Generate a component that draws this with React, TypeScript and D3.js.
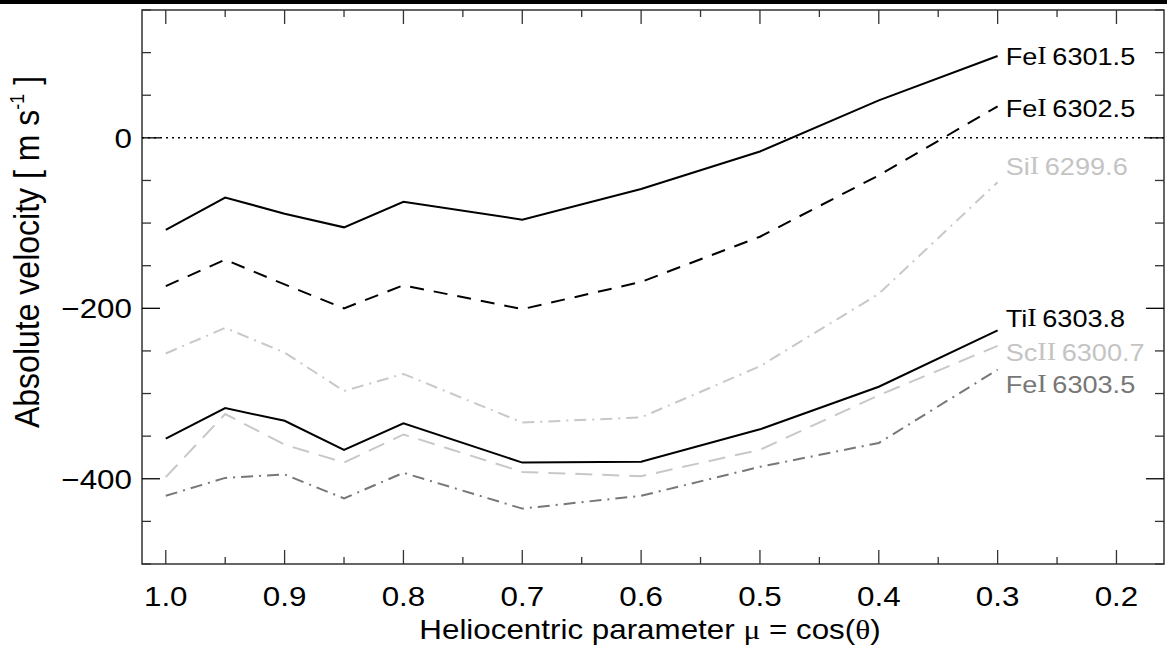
import React from "react";
import * as d3 from "d3";

// Heliocentric positions (mu = cos theta)
const mu = [1.0, 0.95, 0.9, 0.85, 0.8, 0.7, 0.6, 0.5, 0.4, 0.3];

// Absolute line-core velocities [m/s]
const fe6301 = [-108, -70, -89, -105, -75, -96, -60, -16, 44, 96];
const fe6302 = [-174, -143, -172, -200, -173, -201, -169, -116, -44, 37];
const si6299 = [-253, -223, -252, -297, -277, -334, -328, -268, -183, -52];
const ti6303 = [-353, -317, -332, -366, -335, -381, -380, -342, -292, -226];
const sc6300 = [-398, -324, -360, -381, -348, -392, -397, -366, -302, -244];
const fe6303 = [-420, -399, -395, -423, -393, -435, -420, -386, -358, -272];

// Where each series label sits on the velocity axis
const labelAt = [93, 32, -36, -214, -254, -292];

const xTicksMajor = [1.0, 0.9, 0.8, 0.7, 0.6, 0.5, 0.4, 0.3, 0.2];
const xTicksMinor = [0.95, 0.85, 0.75, 0.65, 0.55, 0.45, 0.35, 0.25, 0.15];
const yTicksMajor = [0, -200, -400];
const yTicksMinor = [150, 100, 50, -50, -100, -150, -250, -300, -350, -450, -500];

type Series = {
  el: string;
  ion: string;
  wl: string;
  values: number[];
  color: string;
  labelColor: string;
  dash: string | null;
};

const series: Series[] = [
  { el: "Fe", ion: "I", wl: "6301.5", values: fe6301, color: "#000", labelColor: "#000", dash: null },
  { el: "Fe", ion: "I", wl: "6302.5", values: fe6302, color: "#000", labelColor: "#000", dash: "14 10" },
  { el: "Si", ion: "I", wl: "6299.6", values: si6299, color: "#c8c8c8", labelColor: "#c4c4c4", dash: "12 6 2 6" },
  { el: "Ti", ion: "I", wl: "6303.8", values: ti6303, color: "#000", labelColor: "#000", dash: null },
  { el: "Sc", ion: "II", wl: "6300.7", values: sc6300, color: "#c8c8c8", labelColor: "#c4c4c4", dash: "17 10" },
  { el: "Fe", ion: "I", wl: "6303.5", values: fe6303, color: "#777", labelColor: "#777", dash: "12 6 2 6" },
];

const W = 1167;
const H = 647;
const left = 142;
const right = 1164;
const top = 10;
const bottom = 564;

const sans = "'Liberation Sans', Arial, Helvetica, sans-serif";
const serif = "'Liberation Serif', 'Times New Roman', serif";

// Text drawn with a slight horizontal (screen-x) stretch, wide Helvetica look
function Wide({
  x,
  y,
  sx = 1.12,
  rotate = 0,
  children,
  ...rest
}: {
  x: number;
  y: number;
  sx?: number;
  rotate?: number;
  children: React.ReactNode;
  [k: string]: any;
}) {
  return (
    <g transform={`translate(${x},${y}) scale(${sx},1) rotate(${rotate})`}>
      <text x={0} y={0} {...rest}>
        {children}
      </text>
    </g>
  );
}

export default function App() {
  const x = d3.scaleLinear().domain([1.02, 0.16]).range([left, right]);
  const y = d3.scaleLinear().domain([-500, 150]).range([bottom, top]);

  const line = d3
    .line<number>()
    .x((_, i) => x(mu[i]))
    .y((v) => y(v));

  const axisColor = "#333";
  const majX = 14;
  const minX = 7;
  const majY = 18;
  const minY = 9;

  return (
    <svg
      width={W}
      height={H}
      style={{ position: "absolute", left: 0, top: 0, background: "#fff" }}
      fontFamily={sans}
    >
      <rect x={0} y={0} width={W} height={4} fill="#000" />

      {/* zero-velocity reference */}
      <line
        x1={left}
        x2={right}
        y1={y(0)}
        y2={y(0)}
        stroke="#000"
        strokeWidth={1.5}
        strokeDasharray="2 4"
      />

      {series.map((s, k) => (
        <path
          key={k}
          d={line(s.values) || ""}
          fill="none"
          stroke={s.color}
          strokeWidth={2}
          strokeDasharray={s.dash || undefined}
          strokeLinejoin="miter"
        />
      ))}

      {series.map((s, k) => (
        <Wide
          key={"l" + k}
          x={x(mu[mu.length - 1]) + 8}
          y={y(labelAt[k])}
          sx={1.13}
          dominantBaseline="middle"
          fontSize={24}
          fill={s.labelColor}
        >
          {s.el}
          <tspan fontFamily={serif} fontSize={25}>
            {s.ion}
          </tspan>
          <tspan dx={5}>{s.wl}</tspan>
        </Wide>
      ))}

      {/* frame */}
      <rect
        x={left}
        y={top}
        width={right - left}
        height={bottom - top}
        fill="none"
        stroke={axisColor}
        strokeWidth={1.5}
      />

      {/* x ticks, bottom and top */}
      {xTicksMajor.map((t) => (
        <g key={"xm" + t}>
          <line x1={x(t)} x2={x(t)} y1={bottom} y2={bottom - majX} stroke={axisColor} strokeWidth={1.3} />
          <line x1={x(t)} x2={x(t)} y1={top} y2={top + majX} stroke={axisColor} strokeWidth={1.3} />
          <Wide x={x(t)} y={606} textAnchor="middle" fontSize={28} fill="#000">
            {d3.format(".1f")(t)}
          </Wide>
        </g>
      ))}
      {xTicksMinor.map((t) => (
        <g key={"xn" + t}>
          <line x1={x(t)} x2={x(t)} y1={bottom} y2={bottom - minX} stroke={axisColor} strokeWidth={1.3} />
          <line x1={x(t)} x2={x(t)} y1={top} y2={top + minX} stroke={axisColor} strokeWidth={1.3} />
        </g>
      ))}

      {/* y ticks, left and right */}
      {yTicksMajor.map((t) => (
        <g key={"ym" + t}>
          <line x1={left} x2={left + majY} y1={y(t)} y2={y(t)} stroke="#000" strokeWidth={1.3} />
          <line x1={right} x2={right - majY} y1={y(t)} y2={y(t)} stroke="#000" strokeWidth={1.3} />
          <Wide x={132} y={y(t)} dy="0.36em" textAnchor="end" fontSize={28} fill="#000">
            {t < 0 ? "\u2212" + Math.abs(t) : String(t)}
          </Wide>
        </g>
      ))}
      {yTicksMinor.map((t) => (
        <g key={"yn" + t}>
          <line x1={left} x2={left + minY} y1={y(t)} y2={y(t)} stroke={axisColor} strokeWidth={1.3} />
          <line x1={right} x2={right - minY} y1={y(t)} y2={y(t)} stroke={axisColor} strokeWidth={1.3} />
        </g>
      ))}

      {/* axis titles */}
      <Wide x={650} y={639} textAnchor="middle" fontSize={28} fill="#000">
        Heliocentric parameter{" "}
        <tspan fontFamily={serif}>μ</tspan> = cos(<tspan fontFamily={serif}>θ</tspan>)
      </Wide>
      <Wide x={39} y={252} rotate={-90} sx={1.12} textAnchor="middle" fontSize={32} fill="#000">
        Absolute velocity [ m s
        <tspan dy={-13} fontSize={18}>
          -1
        </tspan>
        <tspan dy={13}> ]</tspan>
      </Wide>
    </svg>
  );
}
